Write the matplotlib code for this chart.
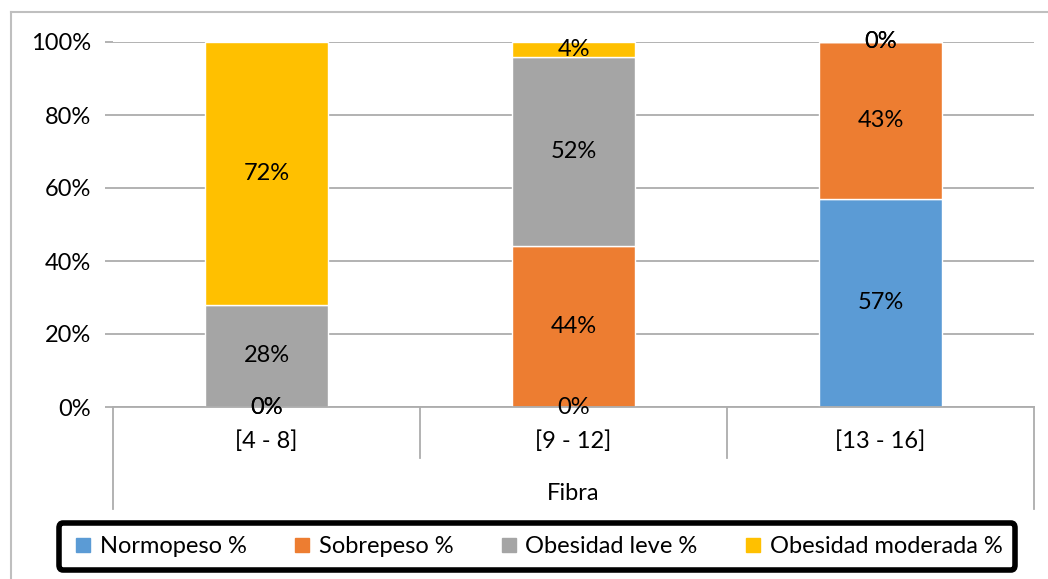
import matplotlib
matplotlib.use('Agg')
import matplotlib.pyplot as plt
from matplotlib.lines import Line2D
import numpy as np

categories = ['[4 - 8]', '[9 - 12]', '[13 - 16]']
series_names = ['Normopeso %', 'Sobrepeso %', 'Obesidad leve %', 'Obesidad moderada %']
normopeso = [0, 0, 57]
sobrepeso = [0, 44, 43]
obesidad_leve = [28, 52, 0]
obesidad_moderada = [72, 4, 0]
colors = ['#5B9BD5', '#ED7D31', '#A5A5A5', '#FFC000']
axis_title = 'Fibra'

plt.rcParams['font.family'] = ['Lato', 'DejaVu Sans']
fs = 17
grid_c = '#ADADAD'

W, H = 1048, 579
fig = plt.figure(figsize=(W / 100, H / 100), dpi=100)
ax = fig.add_axes([113 / W, 1 - 407 / H, (1034 - 113) / W, (407 - 42) / H])

x = np.arange(len(categories))
bottom = np.zeros(len(categories))
for vals, c in zip([normopeso, sobrepeso, obesidad_leve, obesidad_moderada], colors):
    vals = np.array(vals, dtype=float)
    ax.bar(x, vals, 0.4, bottom=bottom, color=c, edgecolor='white', linewidth=1, zorder=3)
    for xi, v, b in zip(x, vals, bottom):
        ax.text(xi, b + v / 2, f'{int(v)}%', ha='center', va='center', fontsize=fs, zorder=5)
    bottom += vals

ax.set_xlim(-0.5, 2.5)
ax.set_ylim(0, 100)
ax.set_yticks(range(0, 101, 20))
ax.set_yticklabels([f'{v}%' for v in range(0, 101, 20)], fontsize=fs)
ax.yaxis.grid(True, color=grid_c, linewidth=1.3, zorder=0)
ax.tick_params(axis='y', length=6, color=grid_c, width=1.3, pad=10)
ax.set_xticks([])
for s in ['top', 'right', 'left']:
    ax.spines[s].set_visible(False)
ax.spines['bottom'].set_color(grid_c)
ax.spines['bottom'].set_linewidth(1.3)
ax.spines['bottom'].set_zorder(4)

# category separators below the axis
trans = ax.get_xaxis_transform()
ax_h = 407 - 42
for xs in [0.5, 1.5]:
    ax.plot([xs, xs], [0, -(458 - 407) / ax_h], color=grid_c, lw=1.3, transform=trans, clip_on=False)
for xs in [-0.5, 2.5]:
    ax.plot([xs, xs], [0, -(509 - 407) / ax_h], color=grid_c, lw=1.3, transform=trans, clip_on=False)
for xi, cat in zip(x, categories):
    ax.text(xi, -(441 - 407) / ax_h, cat, ha='center', va='center', fontsize=fs, transform=trans)
ax.text(1, -(494 - 407) / ax_h, axis_title, ha='center', va='center', fontsize=fs, transform=trans)

# chart area border (left and top visible)
fig.add_artist(Line2D([11 / W, 11 / W], [0, 1 - 12 / H], color='#BFBFBF', lw=1.5))
fig.add_artist(Line2D([11 / W, 1], [1 - 12 / H, 1 - 12 / H], color='#BFBFBF', lw=1.5))

handles = [Line2D([], [], marker='s', linestyle='none', markersize=10, color=c) for c in colors]
leg = fig.legend(handles, series_names, loc='center', ncol=4, fontsize=fs,
                 bbox_to_anchor=(537 / W, 1 - 546.5 / H), frameon=True, fancybox=True,
                 framealpha=1, handletextpad=0.2, columnspacing=1.85, handlelength=1.0,
                 borderpad=0.55, borderaxespad=0)
leg.get_frame().set_edgecolor('black')
leg.get_frame().set_linewidth(4)
leg.get_frame().set_boxstyle('round,pad=0,rounding_size=0.2')

fig.savefig('out.png', dpi=100)
